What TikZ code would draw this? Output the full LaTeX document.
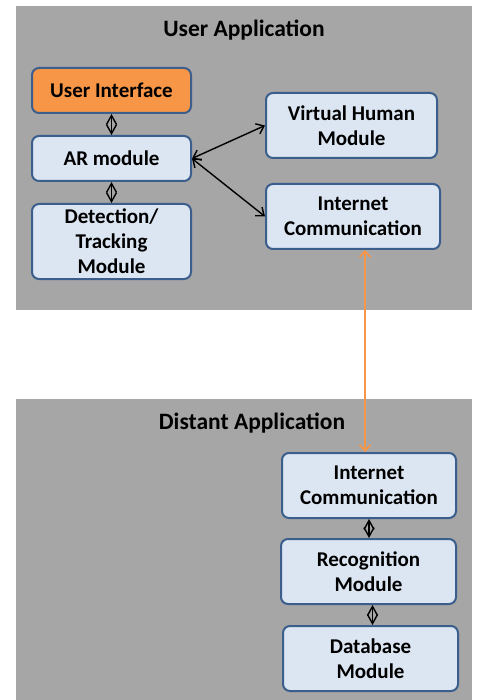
\documentclass[tikz,border=0pt]{standalone}
\usepackage{fontspec}
\setmainfont{Carlito}
\usetikzlibrary{arrows.meta}
\definecolor{panel}{HTML}{A6A6A6}
\definecolor{boxfill}{HTML}{DCE6F2}
\definecolor{boxdraw}{HTML}{3B5E8C}
\definecolor{orangef}{HTML}{F79646}
\begin{document}
\begin{tikzpicture}[x=1pt,y=-1pt,
  box/.style={draw=boxdraw, fill=boxfill, line width=2pt, rounded corners=7pt,
    align=center, inner sep=0pt, font=\bfseries\fontsize{21}{25}\selectfont},
  title/.style={font=\bfseries\fontsize{23.5}{28}\selectfont},
  link/.style={black, line width=1.4pt, {Straight Barb[length=7pt,width=11pt]}-{Straight Barb[length=7pt,width=11pt]}},
  slink/.style={black, line width=1.4pt, {Straight Barb[length=9pt,width=10pt]}-{Straight Barb[length=9pt,width=10pt]}},
  olink/.style={orangef, line width=1.6pt, {Straight Barb[length=6pt,width=11pt]}-{Straight Barb[length=6pt,width=11pt]}}]
\useasboundingbox (0,0) rectangle (477,700);
\fill[white] (0,0) rectangle (477,700);
% panels
\fill[panel] (16,6) rectangle (472,310);
\fill[panel] (16,399) rectangle (472,700);
\node[title] (t1) at (244,30) {User Application};
\node[title] (t2) at (252,423) {Distant Application};
% top boxes
\node[box, fill=orangef, minimum width=159, minimum height=45] (ui) at (111.5,90.5) {User Interface};
\node[box, minimum width=159, minimum height=45] (ar) at (111.5,158.5) {AR module};
\node[box, minimum width=159, minimum height=75] (dt) at (111.5,241.5) {Detection/\\Tracking\\Module};
\node[box, minimum width=171, minimum height=65] (vh) at (351.5,125.5) {Virtual Human\\Module};
\node[box, minimum width=174, minimum height=65] (ic) at (353,216.5) {Internet\\Communication};
% bottom boxes
\node[box, minimum width=174, minimum height=65] (ic2) at (369,485.5) {Internet\\Communication};
\node[box, minimum width=175, minimum height=65] (rec) at (368.5,571.5) {Recognition\\Module};
\node[box, minimum width=175, minimum height=65] (db) at (370.5,658.5) {Database\\Module};
% connectors
\draw[slink] (ui.south) -- (ar.north);
\draw[slink] (ar.south) -- (dt.north);
\draw[link] (ar.east) -- (vh.west);
\draw[link] (ar.east) -- (ic.west);
\draw[olink] ([xshift=12]ic.south) -- ([xshift=-4]ic2.north);
\draw[slink] (ic2.south) -- (ic2.south |- rec.north);
\draw[slink] ([xshift=4]rec.south) -- ([xshift=4]rec.south |- db.north);
\end{tikzpicture}
\end{document}
